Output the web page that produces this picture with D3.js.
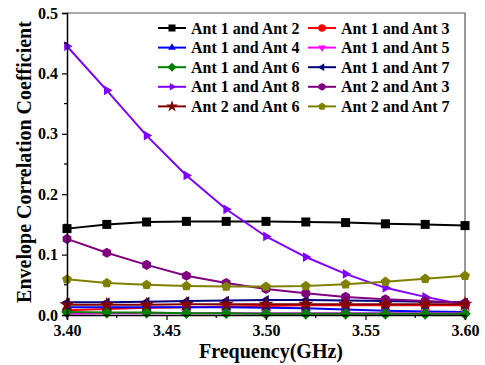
<!DOCTYPE html>
<html>
<head>
<meta charset="utf-8">
<script src="https://cdn.jsdelivr.net/npm/d3@7"></script>
<style>
  html, body { margin: 0; padding: 0; background: #fff; }
  svg text { font-family: "Liberation Serif", "DejaVu Serif", "Times New Roman", Times, serif !important; font-weight: bold; fill: #000; }
</style>
</head>
<body>
<svg id="chart" width="485" height="365"></svg>
<script>
// Frequency sweep (GHz)
const frequencies = [3.40, 3.42, 3.44, 3.46, 3.48, 3.50, 3.52, 3.54, 3.56, 3.58, 3.60];

// Envelope correlation coefficient for each antenna pair
const ant1ant2 = [0.143, 0.150, 0.154, 0.155, 0.155, 0.155, 0.154, 0.153, 0.151, 0.150, 0.148];
const ant1ant3 = [0.008, 0.010, 0.012, 0.013, 0.014, 0.015, 0.016, 0.016, 0.016, 0.016, 0.016];
const ant1ant4 = [0.013, 0.013, 0.013, 0.013, 0.013, 0.012, 0.011, 0.009, 0.007, 0.006, 0.005];
const ant1ant5 = [0.002, 0.003, 0.003, 0.003, 0.003, 0.003, 0.003, 0.003, 0.003, 0.003, 0.003];
const ant1ant6 = [0.005, 0.004, 0.004, 0.003, 0.003, 0.002, 0.002, 0.002, 0.002, 0.002, 0.002];
const ant1ant7 = [0.021, 0.021, 0.022, 0.023, 0.024, 0.025, 0.025, 0.024, 0.023, 0.022, 0.021];
const ant1ant8 = [0.445, 0.372, 0.297, 0.231, 0.175, 0.130, 0.096, 0.068, 0.045, 0.030, 0.017];
const ant2ant3 = [0.126, 0.103, 0.083, 0.065, 0.053, 0.043, 0.036, 0.030, 0.026, 0.023, 0.020];
const ant2ant6 = [0.017, 0.017, 0.017, 0.018, 0.018, 0.018, 0.018, 0.018, 0.018, 0.018, 0.018];
const ant2ant7 = [0.059, 0.053, 0.050, 0.048, 0.047, 0.047, 0.048, 0.051, 0.055, 0.060, 0.065];

const seriesNames = ["Ant 1 and Ant 2", "Ant 1 and Ant 3", "Ant 1 and Ant 4", "Ant 1 and Ant 5",
  "Ant 1 and Ant 6", "Ant 1 and Ant 7", "Ant 1 and Ant 8", "Ant 2 and Ant 3",
  "Ant 2 and Ant 6", "Ant 2 and Ant 7"];
const seriesValues = [ant1ant2, ant1ant3, ant1ant4, ant1ant5, ant1ant6, ant1ant7, ant1ant8, ant2ant3, ant2ant6, ant2ant7];
const seriesColors = ["#000000", "#ff0000", "#0000ff", "#ff00ff", "#008000", "#000080", "#8000ff", "#800080", "#800000", "#808000"];
const seriesMarkers = ["square", "circle", "up", "down", "diamond", "left", "right", "hexagon", "star", "pentagon"];

const xTicks = [3.40, 3.45, 3.50, 3.55, 3.60];
const yTicks = [0.0, 0.1, 0.2, 0.3, 0.4, 0.5];

const svg = d3.select("#chart");
const plotLeft = 67, plotRight = 465, plotTop = 13, plotBottom = 315;
const serif = '"Liberation Serif", "DejaVu Serif", "Times New Roman", Times, serif';

const x = d3.scaleLinear().domain([3.40, 3.60]).range([plotLeft, plotRight]);
const y = d3.scaleLinear().domain([0, 0.5]).range([plotBottom, plotTop]);

// Polygon marker path of radius r, n sides, starting at angle a0 (radians, 0 = up)
function polygon(n, r, a0) {
  const pts = d3.range(n).map(i => {
    const a = a0 + i * 2 * Math.PI / n;
    return [r * Math.sin(a), -r * Math.cos(a)];
  });
  return "M" + pts.map(p => p[0].toFixed(2) + "," + p[1].toFixed(2)).join("L") + "Z";
}
function markerPath(kind, s) {
  switch (kind) {
    case "square": return `M${-s},${-s}H${s}V${s}H${-s}Z`;
    case "circle": return d3.symbol(d3.symbolCircle, Math.PI * s * s * 1.15)();
    case "up": return polygon(3, s * 1.25, 0);
    case "down": return polygon(3, s * 1.25, Math.PI);
    case "left": return polygon(3, s * 1.25, -Math.PI / 2);
    case "right": return polygon(3, s * 1.25, Math.PI / 2);
    case "diamond": return polygon(4, s * 1.3, 0);
    case "hexagon": return polygon(6, s * 1.12, 0);
    case "pentagon": return polygon(5, s * 1.15, 0);
    case "star": return d3.symbol(d3.symbolStar, s * s * 3.6)();
  }
}

// Frame: top and right borders
svg.append("path")
  .attr("d", `M${plotLeft},${plotTop}H${plotRight}V${plotBottom}`)
  .attr("fill", "none").attr("stroke", "#555").attr("stroke-width", 1.2);

// Series lines and markers
const plot = svg.append("g");
const line = d3.line().x((d, i) => x(frequencies[i])).y(d => y(d));
seriesValues.forEach((vals, k) => {
  const g = plot.append("g");
  g.append("path").attr("d", line(vals))
    .attr("fill", "none").attr("stroke", seriesColors[k]).attr("stroke-width", 2);
  g.selectAll("path.m").data(vals).enter().append("path")
    .attr("class", "m")
    .attr("transform", (d, i) => `translate(${x(frequencies[i])},${y(d)})`)
    .attr("d", markerPath(seriesMarkers[k], 4.5))
    .attr("fill", seriesColors[k]);
});

// Axes
const xAxis = d3.axisBottom(x).tickValues(xTicks).tickFormat(d3.format(".2f")).tickSize(5).tickPadding(5);
const yAxis = d3.axisLeft(y).tickValues(yTicks).tickFormat(d3.format(".1f")).tickSize(5).tickPadding(4);

const gx = svg.append("g").attr("transform", `translate(0,${plotBottom})`).call(xAxis);
const gy = svg.append("g").attr("transform", `translate(${plotLeft},0)`).call(yAxis);
[gx, gy].forEach(g => {
  g.attr("font-family", serif).attr("font-size", 16).attr("font-weight", "bold");
  g.select(".domain").attr("stroke", "#000").attr("stroke-width", 1.5);
  g.selectAll(".tick line").attr("stroke", "#000").attr("stroke-width", 1.2);
  g.selectAll(".tick text").attr("fill", "#000");
});
// Minor ticks
const xMinor = [3.425, 3.475, 3.525, 3.575];
const yMinor = [0.05, 0.15, 0.25, 0.35, 0.45];
svg.append("g").selectAll("line").data(xMinor).enter().append("line")
  .attr("x1", d => x(d)).attr("x2", d => x(d)).attr("y1", plotBottom).attr("y2", plotBottom + 3)
  .attr("stroke", "#000").attr("stroke-width", 1.2);
svg.append("g").selectAll("line").data(yMinor).enter().append("line")
  .attr("x1", plotLeft - 3).attr("x2", plotLeft).attr("y1", d => y(d)).attr("y2", d => y(d))
  .attr("stroke", "#000").attr("stroke-width", 1.2);

// Axis titles
svg.append("text").attr("x", 271).attr("y", 358).attr("text-anchor", "middle")
  .attr("font-size", 20).text("Frequency(GHz)");
svg.append("text").attr("transform", `translate(31,162) rotate(-90)`).attr("text-anchor", "middle")
  .attr("font-size", 20).text("Envelope Correlation Coefficient");

// Legend: two columns, five rows
const legend = svg.append("g");
const colX = [158, 308];
seriesNames.forEach((name, k) => {
  const col = k % 2, row = Math.floor(k / 2);
  const cy = 28 + row * 19.6;
  const x0 = colX[col];
  const g = legend.append("g");
  g.append("line").attr("x1", x0).attr("x2", x0 + 28).attr("y1", cy).attr("y2", cy)
    .attr("stroke", seriesColors[k]).attr("stroke-width", 2);
  g.append("path").attr("transform", `translate(${x0 + 14},${cy})`)
    .attr("d", markerPath(seriesMarkers[k], 3.5)).attr("fill", seriesColors[k]);
  g.append("text").attr("x", x0 + 33).attr("y", cy + 5.5)
    .attr("font-size", 16).text(name);
});
</script>
</body>
</html>
